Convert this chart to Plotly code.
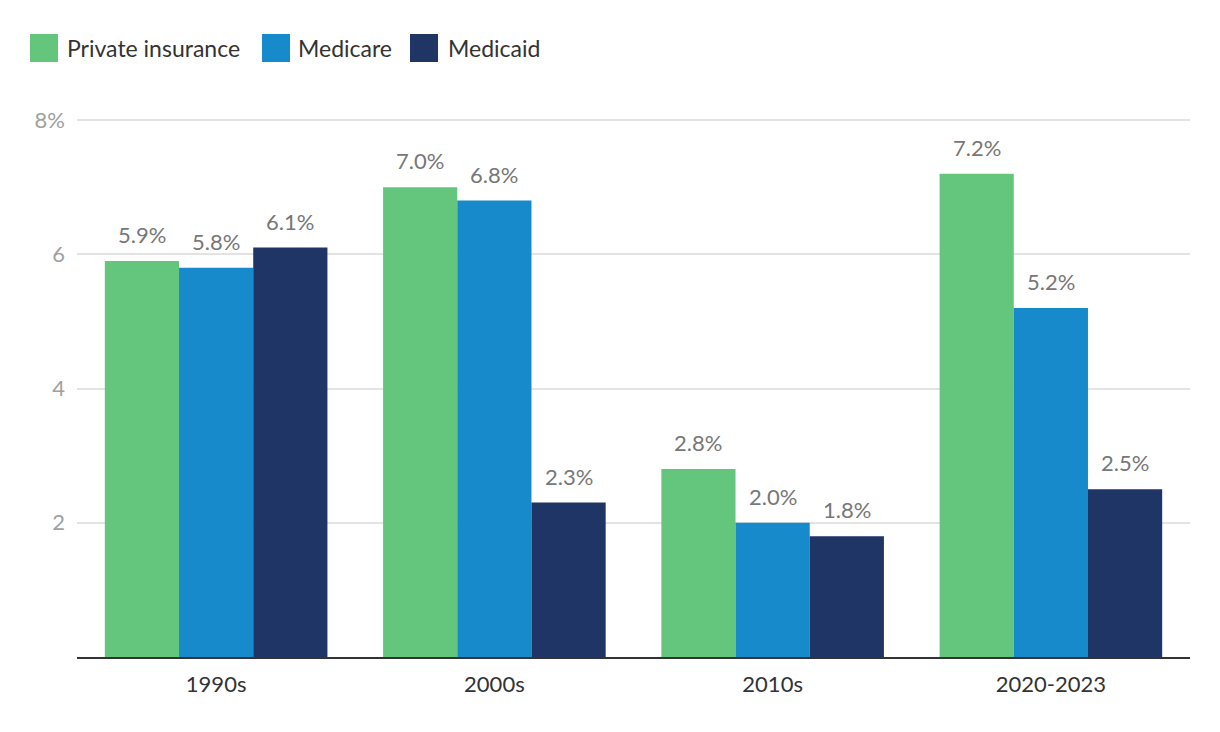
import plotly.graph_objects as go

categories = ["1990s", "2000s", "2010s", "2020-2023"]
private_insurance = [5.9, 7.0, 2.8, 7.2]
medicare = [5.8, 6.8, 2.0, 5.2]
medicaid = [6.1, 2.3, 1.8, 2.5]
series_names = ["Private insurance", "Medicare", "Medicaid"]
colors = ["#64C67C", "#168ACB", "#1F3566"]
y_tickvals = [2, 4, 6, 8]
y_ticktext = ["2", "4", "6", "8%"]

FONT = "Lato"
OFF = 8  # default page body margin
W, H = 1220 - OFF, 732 - OFF
PX_PER_UNIT = (657 - 120) / 8
TOP_PX = 116
ML, MR, MT, MB = 77 - OFF, 30, TOP_PX - OFF, 75
PW = W - ML - MR
PH = H - MT - MB
YMAX = 8 + (120 - TOP_PX) / PX_PER_UNIT
BARGAP = 0.2

series_vals = [private_insurance, medicare, medicaid]

fig = go.Figure()
for name, vals, col in zip(series_names, series_vals, colors):
    fig.add_trace(go.Bar(
        x=categories, y=vals, name=name, marker=dict(color=col, line=dict(width=0)),
        showlegend=False,
    ))

# value labels
bar_px = PW / len(categories) * (1 - BARGAP) / len(series_names)
for i, vals in enumerate(series_vals):
    for c, v in zip(categories, vals):
        fig.add_annotation(x=c, y=v, text=f"{v:.1f}%", showarrow=False,
                           xshift=(i - 1) * bar_px, yshift=11, yanchor="bottom",
                           font=dict(family=FONT, size=22, color="#777777"))

# custom legend (large square swatches), positions in page pixels
def px_x(px):
    return (px - 77) / PW

def px_y(py):
    return (657 - py) / PH

legend_items = [(30, 65), (262, 296), (410, 446)]
for (sx, tx), name, col in zip(legend_items, series_names, colors):
    fig.add_shape(type="rect", xref="paper", yref="paper",
                  x0=px_x(sx), x1=px_x(sx + 28), y0=px_y(62), y1=px_y(34),
                  fillcolor=col, line=dict(width=0), layer="above")
    fig.add_annotation(xref="paper", yref="paper", x=px_x(tx), y=px_y(48),
                       xanchor="left", yanchor="middle", text=name, showarrow=False,
                       font=dict(family=FONT, size=23, color="#333333"))

fig.update_layout(
    width=W, height=H,
    margin=dict(l=ML, r=MR, t=MT, b=MB, autoexpand=False),
    paper_bgcolor="white", plot_bgcolor="white",
    barmode="group", bargap=BARGAP, bargroupgap=0,
    font=dict(family=FONT),
    xaxis=dict(showgrid=False, ticks="", showline=True, linecolor="#333333", linewidth=2,
               ticklabelstandoff=7,
               tickfont=dict(family=FONT, size=22, color="#333333")),
    yaxis=dict(range=[0, YMAX], tickvals=y_tickvals, ticktext=y_ticktext,
               showgrid=True, gridcolor="#e3e3e3", gridwidth=1.5, zeroline=False,
               showline=False, ticks="", ticklabelstandoff=11,
               tickfont=dict(family=FONT, size=22, color="#a0a0a0")),
)

fig.write_html("out.html")
